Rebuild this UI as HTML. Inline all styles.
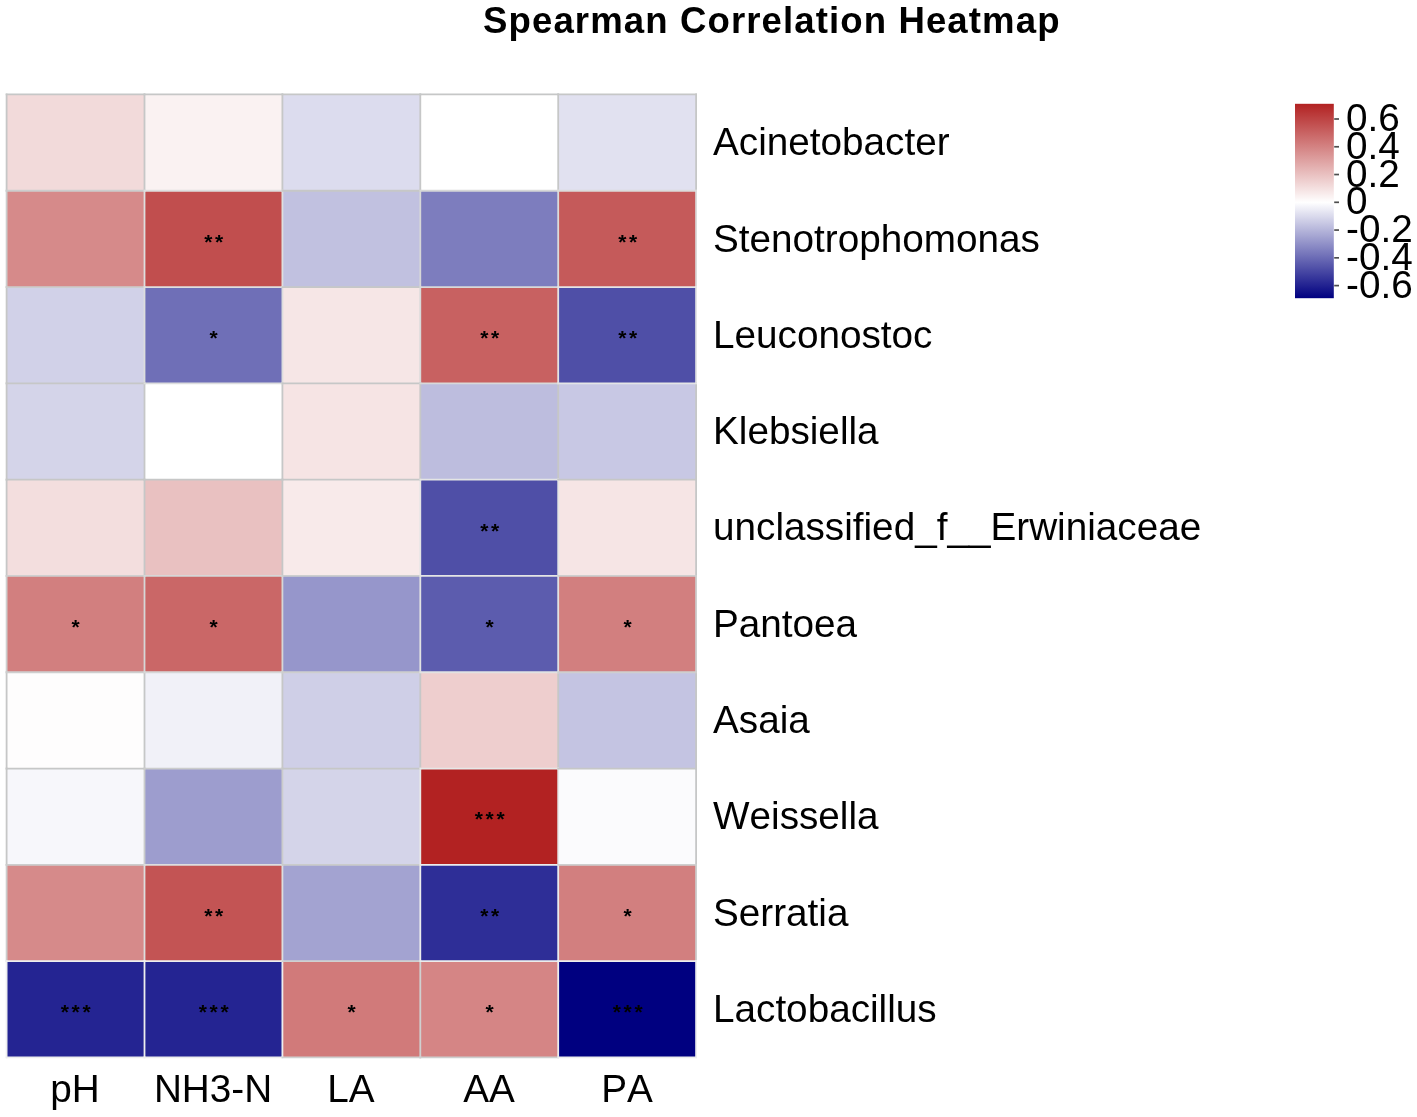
<!DOCTYPE html>
<html><head><meta charset="utf-8"><title>Spearman Correlation Heatmap</title>
<style>
html,body{margin:0;padding:0;background:#fff;}
body{width:1417px;height:1117px;position:relative;overflow:hidden;font-family:"Liberation Sans",sans-serif;color:#000;}
svg{position:absolute;left:0;top:0;}
.t{position:absolute;white-space:nowrap;font-kerning:none;will-change:transform;}
.s{position:absolute;white-space:nowrap;text-align:center;font-kerning:none;will-change:transform;font-weight:bold;letter-spacing:2.7px;font-size:21px;line-height:21px;height:21px;width:120px;}
</style></head><body>
<svg width="1417" height="1117" viewBox="0 0 1417 1117">
<defs><linearGradient id="lg" x1="0" y1="0" x2="0" y2="1"><stop offset="0" stop-color="#b22222"/><stop offset="0.5067" stop-color="#ffffff"/><stop offset="1" stop-color="#000080"/></linearGradient></defs>
<rect x="6.60" y="94.45" width="137.90" height="96.30" fill="#f2dada"/>
<rect x="144.50" y="94.45" width="137.90" height="96.30" fill="#faf2f2"/>
<rect x="282.40" y="94.45" width="137.90" height="96.30" fill="#dcdcee"/>
<rect x="420.30" y="94.45" width="137.90" height="96.30" fill="#ffffff"/>
<rect x="558.20" y="94.45" width="137.90" height="96.30" fill="#e1e1f0"/>
<rect x="6.60" y="190.75" width="137.90" height="96.30" fill="#d68a8a"/>
<rect x="144.50" y="190.75" width="137.90" height="96.30" fill="#c14e4e"/>
<rect x="282.40" y="190.75" width="137.90" height="96.30" fill="#c1c1e0"/>
<rect x="420.30" y="190.75" width="137.90" height="96.30" fill="#7d7dbe"/>
<rect x="558.20" y="190.75" width="137.90" height="96.30" fill="#c55a5a"/>
<rect x="6.60" y="287.05" width="137.90" height="96.30" fill="#d1d1e8"/>
<rect x="144.50" y="287.05" width="137.90" height="96.30" fill="#6f6fb7"/>
<rect x="282.40" y="287.05" width="137.90" height="96.30" fill="#f6e6e6"/>
<rect x="420.30" y="287.05" width="137.90" height="96.30" fill="#c86161"/>
<rect x="558.20" y="287.05" width="137.90" height="96.30" fill="#4f4fa7"/>
<rect x="6.60" y="383.35" width="137.90" height="96.30" fill="#d4d4e9"/>
<rect x="144.50" y="383.35" width="137.90" height="96.30" fill="#ffffff"/>
<rect x="282.40" y="383.35" width="137.90" height="96.30" fill="#f6e4e4"/>
<rect x="420.30" y="383.35" width="137.90" height="96.30" fill="#bdbdde"/>
<rect x="558.20" y="383.35" width="137.90" height="96.30" fill="#c8c8e4"/>
<rect x="6.60" y="479.65" width="137.90" height="96.30" fill="#f3dede"/>
<rect x="144.50" y="479.65" width="137.90" height="96.30" fill="#e9c1c1"/>
<rect x="282.40" y="479.65" width="137.90" height="96.30" fill="#f8eaea"/>
<rect x="420.30" y="479.65" width="137.90" height="96.30" fill="#4f4fa7"/>
<rect x="558.20" y="479.65" width="137.90" height="96.30" fill="#f6e5e5"/>
<rect x="6.60" y="575.95" width="137.90" height="96.30" fill="#d27f7f"/>
<rect x="144.50" y="575.95" width="137.90" height="96.30" fill="#ca6767"/>
<rect x="282.40" y="575.95" width="137.90" height="96.30" fill="#9696cb"/>
<rect x="420.30" y="575.95" width="137.90" height="96.30" fill="#5c5cae"/>
<rect x="558.20" y="575.95" width="137.90" height="96.30" fill="#d27f7f"/>
<rect x="6.60" y="672.25" width="137.90" height="96.30" fill="#fefdfd"/>
<rect x="144.50" y="672.25" width="137.90" height="96.30" fill="#f1f1f8"/>
<rect x="282.40" y="672.25" width="137.90" height="96.30" fill="#cfcfe7"/>
<rect x="420.30" y="672.25" width="137.90" height="96.30" fill="#eecece"/>
<rect x="558.20" y="672.25" width="137.90" height="96.30" fill="#c4c4e2"/>
<rect x="6.60" y="768.55" width="137.90" height="96.30" fill="#f7f7fb"/>
<rect x="144.50" y="768.55" width="137.90" height="96.30" fill="#9d9dce"/>
<rect x="282.40" y="768.55" width="137.90" height="96.30" fill="#d4d4e9"/>
<rect x="420.30" y="768.55" width="137.90" height="96.30" fill="#b22222"/>
<rect x="558.20" y="768.55" width="137.90" height="96.30" fill="#fbfbfd"/>
<rect x="6.60" y="864.85" width="137.90" height="96.30" fill="#d68a8a"/>
<rect x="144.50" y="864.85" width="137.90" height="96.30" fill="#c35454"/>
<rect x="282.40" y="864.85" width="137.90" height="96.30" fill="#a3a3d1"/>
<rect x="420.30" y="864.85" width="137.90" height="96.30" fill="#2e2e97"/>
<rect x="558.20" y="864.85" width="137.90" height="96.30" fill="#d27f7f"/>
<rect x="6.60" y="961.15" width="137.90" height="96.30" fill="#242492"/>
<rect x="144.50" y="961.15" width="137.90" height="96.30" fill="#242492"/>
<rect x="282.40" y="961.15" width="137.90" height="96.30" fill="#d17a7a"/>
<rect x="420.30" y="961.15" width="137.90" height="96.30" fill="#d58585"/>
<rect x="558.20" y="961.15" width="137.90" height="96.30" fill="#000080"/>
<g stroke-width="1.8" stroke-linecap="square" fill="none">
<path d="M6.60 94.45V190.75" stroke="#c6c7c7"/>
<path d="M6.60 190.75V287.05" stroke="#cccdcd"/>
<path d="M6.60 287.05V383.35" stroke="#c6c7c7"/>
<path d="M6.60 383.35V479.65" stroke="#c6c7c7"/>
<path d="M6.60 479.65V575.95" stroke="#c6c7c7"/>
<path d="M6.60 575.95V672.25" stroke="#cecfcf"/>
<path d="M6.60 672.25V768.55" stroke="#c6c7c7"/>
<path d="M6.60 768.55V864.85" stroke="#c6c7c7"/>
<path d="M6.60 864.85V961.15" stroke="#cccdcd"/>
<path d="M6.60 961.15V1057.45" stroke="#edeeee"/>
<path d="M144.50 94.45V190.75" stroke="#c6c7c7"/>
<path d="M144.50 190.75V287.05" stroke="#dedfdf"/>
<path d="M144.50 287.05V383.35" stroke="#dcdddd"/>
<path d="M144.50 383.35V479.65" stroke="#c6c7c7"/>
<path d="M144.50 479.65V575.95" stroke="#c6c7c7"/>
<path d="M144.50 575.95V672.25" stroke="#d6d7d7"/>
<path d="M144.50 672.25V768.55" stroke="#c6c7c7"/>
<path d="M144.50 768.55V864.85" stroke="#cbcccc"/>
<path d="M144.50 864.85V961.15" stroke="#dddede"/>
<path d="M144.50 961.15V1057.45" stroke="#edeeee"/>
<path d="M282.40 94.45V190.75" stroke="#c6c7c7"/>
<path d="M282.40 190.75V287.05" stroke="#dedfdf"/>
<path d="M282.40 287.05V383.35" stroke="#dcdddd"/>
<path d="M282.40 383.35V479.65" stroke="#c6c7c7"/>
<path d="M282.40 479.65V575.95" stroke="#c6c7c7"/>
<path d="M282.40 575.95V672.25" stroke="#d6d7d7"/>
<path d="M282.40 672.25V768.55" stroke="#c6c7c7"/>
<path d="M282.40 768.55V864.85" stroke="#cbcccc"/>
<path d="M282.40 864.85V961.15" stroke="#dddede"/>
<path d="M282.40 961.15V1057.45" stroke="#edeeee"/>
<path d="M420.30 94.45V190.75" stroke="#c6c7c7"/>
<path d="M420.30 190.75V287.05" stroke="#d6d7d7"/>
<path d="M420.30 287.05V383.35" stroke="#d8d9d9"/>
<path d="M420.30 383.35V479.65" stroke="#c6c7c7"/>
<path d="M420.30 479.65V575.95" stroke="#e4e5e5"/>
<path d="M420.30 575.95V672.25" stroke="#e1e2e2"/>
<path d="M420.30 672.25V768.55" stroke="#c6c7c7"/>
<path d="M420.30 768.55V864.85" stroke="#e7e8e8"/>
<path d="M420.30 864.85V961.15" stroke="#ebecec"/>
<path d="M420.30 961.15V1057.45" stroke="#cfd0d0"/>
<path d="M558.20 94.45V190.75" stroke="#c6c7c7"/>
<path d="M558.20 190.75V287.05" stroke="#dbdcdc"/>
<path d="M558.20 287.05V383.35" stroke="#e4e5e5"/>
<path d="M558.20 383.35V479.65" stroke="#c6c7c7"/>
<path d="M558.20 479.65V575.95" stroke="#e4e5e5"/>
<path d="M558.20 575.95V672.25" stroke="#e1e2e2"/>
<path d="M558.20 672.25V768.55" stroke="#c6c7c7"/>
<path d="M558.20 768.55V864.85" stroke="#e7e8e8"/>
<path d="M558.20 864.85V961.15" stroke="#ebecec"/>
<path d="M558.20 961.15V1057.45" stroke="#edeeee"/>
<path d="M696.10 94.45V190.75" stroke="#c6c7c7"/>
<path d="M696.10 190.75V287.05" stroke="#dbdcdc"/>
<path d="M696.10 287.05V383.35" stroke="#e4e5e5"/>
<path d="M696.10 383.35V479.65" stroke="#c6c7c7"/>
<path d="M696.10 479.65V575.95" stroke="#c6c7c7"/>
<path d="M696.10 575.95V672.25" stroke="#cecfcf"/>
<path d="M696.10 672.25V768.55" stroke="#c6c7c7"/>
<path d="M696.10 768.55V864.85" stroke="#c6c7c7"/>
<path d="M696.10 864.85V961.15" stroke="#cecfcf"/>
<path d="M696.10 961.15V1057.45" stroke="#edeeee"/>
<path d="M6.60 94.45H144.50" stroke="#c6c7c7"/>
<path d="M144.50 94.45H282.40" stroke="#c6c7c7"/>
<path d="M282.40 94.45H420.30" stroke="#c6c7c7"/>
<path d="M420.30 94.45H558.20" stroke="#c6c7c7"/>
<path d="M558.20 94.45H696.10" stroke="#c6c7c7"/>
<path d="M6.60 190.75H144.50" stroke="#cccdcd"/>
<path d="M144.50 190.75H282.40" stroke="#dedfdf"/>
<path d="M282.40 190.75H420.30" stroke="#c6c7c7"/>
<path d="M420.30 190.75H558.20" stroke="#d6d7d7"/>
<path d="M558.20 190.75H696.10" stroke="#dbdcdc"/>
<path d="M6.60 287.05H144.50" stroke="#cccdcd"/>
<path d="M144.50 287.05H282.40" stroke="#dedfdf"/>
<path d="M282.40 287.05H420.30" stroke="#c6c7c7"/>
<path d="M420.30 287.05H558.20" stroke="#d8d9d9"/>
<path d="M558.20 287.05H696.10" stroke="#e4e5e5"/>
<path d="M6.60 383.35H144.50" stroke="#c6c7c7"/>
<path d="M144.50 383.35H282.40" stroke="#dcdddd"/>
<path d="M282.40 383.35H420.30" stroke="#c6c7c7"/>
<path d="M420.30 383.35H558.20" stroke="#d8d9d9"/>
<path d="M558.20 383.35H696.10" stroke="#e4e5e5"/>
<path d="M6.60 479.65H144.50" stroke="#c6c7c7"/>
<path d="M144.50 479.65H282.40" stroke="#c6c7c7"/>
<path d="M282.40 479.65H420.30" stroke="#c6c7c7"/>
<path d="M420.30 479.65H558.20" stroke="#e4e5e5"/>
<path d="M558.20 479.65H696.10" stroke="#c6c7c7"/>
<path d="M6.60 575.95H144.50" stroke="#cecfcf"/>
<path d="M144.50 575.95H282.40" stroke="#d6d7d7"/>
<path d="M282.40 575.95H420.30" stroke="#cdcece"/>
<path d="M420.30 575.95H558.20" stroke="#e4e5e5"/>
<path d="M558.20 575.95H696.10" stroke="#cecfcf"/>
<path d="M6.60 672.25H144.50" stroke="#cecfcf"/>
<path d="M144.50 672.25H282.40" stroke="#d6d7d7"/>
<path d="M282.40 672.25H420.30" stroke="#cdcece"/>
<path d="M420.30 672.25H558.20" stroke="#e1e2e2"/>
<path d="M558.20 672.25H696.10" stroke="#cecfcf"/>
<path d="M6.60 768.55H144.50" stroke="#c6c7c7"/>
<path d="M144.50 768.55H282.40" stroke="#cbcccc"/>
<path d="M282.40 768.55H420.30" stroke="#c6c7c7"/>
<path d="M420.30 768.55H558.20" stroke="#e7e8e8"/>
<path d="M558.20 768.55H696.10" stroke="#c6c7c7"/>
<path d="M6.60 864.85H144.50" stroke="#cccdcd"/>
<path d="M144.50 864.85H282.40" stroke="#dddede"/>
<path d="M282.40 864.85H420.30" stroke="#cacbcb"/>
<path d="M420.30 864.85H558.20" stroke="#ebecec"/>
<path d="M558.20 864.85H696.10" stroke="#cecfcf"/>
<path d="M6.60 961.15H144.50" stroke="#edeeee"/>
<path d="M144.50 961.15H282.40" stroke="#edeeee"/>
<path d="M282.40 961.15H420.30" stroke="#cfd0d0"/>
<path d="M420.30 961.15H558.20" stroke="#ebecec"/>
<path d="M558.20 961.15H696.10" stroke="#edeeee"/>
<path d="M6.60 1057.45H144.50" stroke="#edeeee"/>
<path d="M144.50 1057.45H282.40" stroke="#edeeee"/>
<path d="M282.40 1057.45H420.30" stroke="#cfd0d0"/>
<path d="M420.30 1057.45H558.20" stroke="#cdcece"/>
<path d="M558.20 1057.45H696.10" stroke="#edeeee"/>
</g>
<rect x="1295.0" y="103.8" width="38.80" height="194.40" fill="url(#lg)"/>
<path d="M1334.20 119.00h4.8" stroke="#4d4d4d" stroke-width="1.7" fill="none"/>
<path d="M1334.20 146.77h4.8" stroke="#4d4d4d" stroke-width="1.7" fill="none"/>
<path d="M1334.20 174.53h4.8" stroke="#4d4d4d" stroke-width="1.7" fill="none"/>
<path d="M1334.20 202.30h4.8" stroke="#4d4d4d" stroke-width="1.7" fill="none"/>
<path d="M1334.20 230.07h4.8" stroke="#4d4d4d" stroke-width="1.7" fill="none"/>
<path d="M1334.20 257.83h4.8" stroke="#4d4d4d" stroke-width="1.7" fill="none"/>
<path d="M1334.20 285.60h4.8" stroke="#4d4d4d" stroke-width="1.7" fill="none"/>
</svg>
<div class="t" style="top:-0.84px;font-size:36.6px;line-height:43.92px;font-weight:bold;letter-spacing:1.1px;left:483.00px;">Spearman Correlation Heatmap</div>
<div class="s" style="left:155.20px;top:230.61px">**</div>
<div class="s" style="left:568.90px;top:230.61px">**</div>
<div class="s" style="left:155.20px;top:326.91px">*</div>
<div class="s" style="left:431.00px;top:326.91px">**</div>
<div class="s" style="left:568.90px;top:326.91px">**</div>
<div class="s" style="left:431.00px;top:519.51px">**</div>
<div class="s" style="left:17.30px;top:615.81px">*</div>
<div class="s" style="left:155.20px;top:615.81px">*</div>
<div class="s" style="left:431.00px;top:615.81px">*</div>
<div class="s" style="left:568.90px;top:615.81px">*</div>
<div class="s" style="left:431.00px;top:808.41px">***</div>
<div class="s" style="left:155.20px;top:904.71px">**</div>
<div class="s" style="left:431.00px;top:904.71px">**</div>
<div class="s" style="left:568.90px;top:904.71px">*</div>
<div class="s" style="left:17.30px;top:1001.01px">***</div>
<div class="s" style="left:155.20px;top:1001.01px">***</div>
<div class="s" style="left:293.10px;top:1001.01px">*</div>
<div class="s" style="left:431.00px;top:1001.01px">*</div>
<div class="s" style="left:568.90px;top:1001.01px">***</div>
<div class="t" style="top:119.27px;font-size:38.7px;line-height:46.44px;left:713.40px;">Acinetobacter</div>
<div class="t" style="top:215.57px;font-size:38.7px;line-height:46.44px;left:713.40px;">Stenotrophomonas</div>
<div class="t" style="top:311.87px;font-size:38.7px;line-height:46.44px;left:713.40px;">Leuconostoc</div>
<div class="t" style="top:408.17px;font-size:38.7px;line-height:46.44px;left:713.40px;">Klebsiella</div>
<div class="t" style="top:504.47px;font-size:38.7px;line-height:46.44px;left:713.40px;">unclassified_f__Erwiniaceae</div>
<div class="t" style="top:600.77px;font-size:38.7px;line-height:46.44px;left:713.40px;">Pantoea</div>
<div class="t" style="top:697.07px;font-size:38.7px;line-height:46.44px;left:713.40px;">Asaia</div>
<div class="t" style="top:793.37px;font-size:38.7px;line-height:46.44px;left:713.40px;">Weissella</div>
<div class="t" style="top:889.67px;font-size:38.7px;line-height:46.44px;left:713.40px;">Serratia</div>
<div class="t" style="top:985.97px;font-size:38.7px;line-height:46.44px;left:713.40px;">Lactobacillus</div>
<div class="t" style="top:1065.77px;font-size:38.7px;line-height:46.44px;left:-225.45px;width:600px;text-align:center;">pH</div>
<div class="t" style="top:1065.77px;font-size:38.7px;line-height:46.44px;left:-86.55px;width:600px;text-align:center;">NH3-N</div>
<div class="t" style="top:1065.77px;font-size:38.7px;line-height:46.44px;left:51.35px;width:600px;text-align:center;">LA</div>
<div class="t" style="top:1065.77px;font-size:38.7px;line-height:46.44px;left:189.25px;width:600px;text-align:center;">AA</div>
<div class="t" style="top:1065.77px;font-size:38.7px;line-height:46.44px;left:327.15px;width:600px;text-align:center;">PA</div>
<div class="t" style="top:94.97px;font-size:38.7px;line-height:46.44px;left:1345.80px;">0.6</div>
<div class="t" style="top:122.74px;font-size:38.7px;line-height:46.44px;left:1345.80px;">0.4</div>
<div class="t" style="top:150.50px;font-size:38.7px;line-height:46.44px;left:1345.80px;">0.2</div>
<div class="t" style="top:178.27px;font-size:38.7px;line-height:46.44px;left:1345.80px;">0</div>
<div class="t" style="top:206.04px;font-size:38.7px;line-height:46.44px;left:1345.80px;">-0.2</div>
<div class="t" style="top:233.80px;font-size:38.7px;line-height:46.44px;left:1345.80px;">-0.4</div>
<div class="t" style="top:261.57px;font-size:38.7px;line-height:46.44px;left:1345.80px;">-0.6</div>
</body></html>
